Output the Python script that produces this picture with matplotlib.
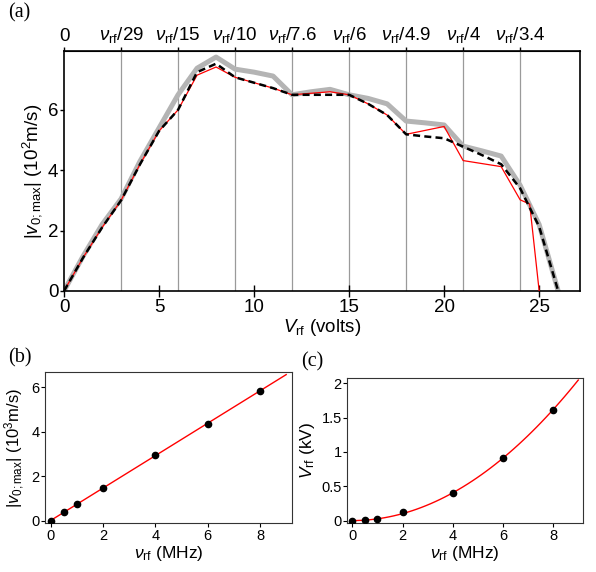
import numpy as np
import matplotlib
matplotlib.use("Agg")
import matplotlib.pyplot as plt

plt.rcParams['font.family'] = ['Liberation Sans', 'DejaVu Sans']
plt.rcParams['mathtext.fontset'] = 'custom'
plt.rcParams['mathtext.rm'] = 'Liberation Sans'
plt.rcParams['mathtext.it'] = 'Liberation Sans:italic'
plt.rcParams['mathtext.bf'] = 'Liberation Sans:bold'

# panel (a): |v0;max| vs V_rf
volts = [0, 1, 2, 3, 4, 5, 6, 7, 8, 9, 10, 11, 12, 13, 14, 15, 16, 17, 18, 19, 20, 21, 22, 23, 24, 25, 26]
gray_v = [0, 1.15, 2.2, 3.05, 4.3, 5.4, 6.5, 7.38, 7.75, 7.35, 7.25, 7.12, 6.5, 6.6, 6.68, 6.5,
          6.38, 6.2, 5.63, 5.57, 5.5, 4.8, 4.64, 4.47, 3.5, 2.2, 0]
dash_v = [0, 1.1, 2.1, 3.0, 4.2, 5.3, 6.0, 7.25, 7.53, 7.08, 6.9, 6.72, 6.5, 6.5, 6.5, 6.5,
          6.2, 5.83, 5.19, 5.12, 5.06, 4.78, 4.5, 4.2, 3.4, 2.13, 0]
red_volts = [0, 1, 2, 3, 4, 5, 6, 7, 8, 9, 10, 11, 12, 13, 14, 15, 16, 17, 18, 19, 20, 21, 22, 23, 24, 24.5, 25]
red_v = [0, 1.1, 2.1, 3.0, 4.2, 5.3, 6.0, 7.15, 7.42, 7.08, 6.9, 6.72, 6.5, 6.55, 6.6, 6.5,
         6.2, 5.83, 5.19, 5.32, 5.45, 4.32, 4.22, 4.12, 3.02, 2.88, 0]
top_pos = [0, 3, 6, 9, 12, 15, 18, 21, 24]
top_labels = ['0', r'$\nu_{\rm rf}$/29', r'$\nu_{\rm rf}$/15', r'$\nu_{\rm rf}$/10', r'$\nu_{\rm rf}$/7.6',
              r'$\nu_{\rm rf}$/6', r'$\nu_{\rm rf}$/4.9', r'$\nu_{\rm rf}$/4', r'$\nu_{\rm rf}$/3.4']

# panel (b) and (c): vs nu_rf
freq = [0, 0.5, 1, 2, 4, 6, 8]
vmax = [0, 0.38, 0.73, 1.48, 2.95, 4.35, 5.85]
vrf = [0, 0.005, 0.028, 0.12, 0.408, 0.917, 1.61]

fig = plt.figure(figsize=(5.96, 5.72), dpi=100)

ax = fig.add_axes([0.1074, 0.4913, 0.8658, 0.4195])
for xv in top_pos[1:]:
    ax.axvline(xv, color='#9a9a9a', lw=0.9, zorder=1)
ax.plot(volts, gray_v, color='#b4b4b4', lw=3.6, zorder=2)
ax.plot(red_volts, red_v, color='red', lw=0.9, zorder=3)
ax.plot(volts, dash_v, color='black', lw=1.8, ls=(0, (2.8, 1.7)), zorder=4)
ax.set_xlim(0, 27.15)
ax.set_ylim(0, 7.95)
ax.set_xticks([0, 5, 10, 15, 20, 25])
ax.set_yticks([0, 2, 4, 6])
ax.tick_params(axis='x', direction='inout', length=9, width=1.0, labelsize=13.5, pad=1)
ax.tick_params(axis='y', direction='out', length=3, width=1.0, labelsize=13.5, pad=1)
for s in ax.spines.values():
    s.set_linewidth(1.2)
ax.set_xlabel(r'$V_{\rm rf}$ (volts)', fontsize=13.5, labelpad=1)
ax.set_ylabel(r'$|v_{\rm 0{;}max}|$ (10$^2$m/s)', fontsize=13.5, labelpad=3)
sec = ax.secondary_xaxis('top')
sec.set_xticks(top_pos)
sec.set_xticklabels(top_labels)
sec.tick_params(direction='out', length=3, width=1.0, labelsize=13.5, pad=1)
fig.text(0.013, 0.977, '(a)', family='Liberation Serif', fontsize=14.5, va='center')

# (b)
axb = fig.add_axes([0.0755, 0.0851, 0.4139, 0.2651])
fit_b = np.polyfit(freq, vmax, 1)
xf = np.linspace(0, 9, 50)
axb.plot(xf, np.polyval(fit_b, xf), color='red', lw=1.0, zorder=2)
axb.plot(freq, vmax, 'o', color='black', ms=4.5, zorder=3)
axb.set_xlim(-0.22, 9.21)
axb.set_ylim(-0.12, 6.7)
axb.set_xticks([0, 2, 4, 6, 8])
axb.set_yticks([0, 2, 4, 6])
axb.tick_params(direction='out', length=3, width=0.8, labelsize=10.5, pad=1)
axb.set_xlabel(r'$\nu_{\rm rf}$ (MHz)', fontsize=12.5, labelpad=1)
axb.set_ylabel(r'$|v_{\rm 0{;}max}|$ (10$^3$m/s)', fontsize=12, labelpad=3)
for s in axb.spines.values():
    s.set_linewidth(0.8)
    s.set_color('#333333')
fig.text(0.013, 0.374, '(b)', family='Liberation Serif', fontsize=14.5, va='center')

# (c)
axc = fig.add_axes([0.5827, 0.0851, 0.396, 0.2546])
f2 = np.array(freq) ** 2
a_fit = np.sum(f2 * np.array(vrf)) / np.sum(f2 * f2)
axc.plot(xf, a_fit * xf ** 2, color='red', lw=1.0, zorder=2)
axc.plot(freq, vrf, 'o', color='black', ms=4.5, zorder=3)
axc.set_xlim(-0.2, 9.2)
axc.set_ylim(-0.04, 2.08)
axc.set_xticks([0, 2, 4, 6, 8])
axc.set_yticks([0, 0.5, 1, 1.5, 2])
axc.set_yticklabels(['0', '0.5', '1', '1.5', '2'])
axc.tick_params(direction='out', length=3, width=0.8, labelsize=10.5, pad=1)
axc.set_xlabel(r'$\nu_{\rm rf}$ (MHz)', fontsize=12.5, labelpad=1)
axc.set_ylabel(r'$V_{\rm rf}$ (kV)', fontsize=12.5, labelpad=3)
for s in axc.spines.values():
    s.set_linewidth(0.8)
    s.set_color('#333333')
fig.text(0.505, 0.368, '(c)', family='Liberation Serif', fontsize=14.5, va='center')

fig.savefig('out.png', dpi=100)
